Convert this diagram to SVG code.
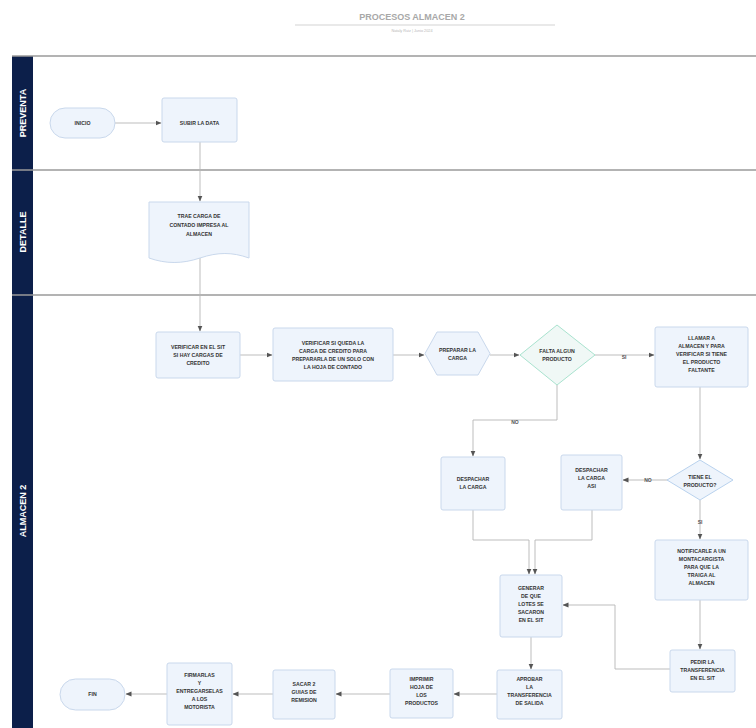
<svg xmlns="http://www.w3.org/2000/svg" width="756" height="728" viewBox="0 0 756 728">
<defs>
<marker id="ah" viewBox="0 0 6 6" refX="5.5" refY="3" markerWidth="6" markerHeight="6" orient="auto" markerUnits="userSpaceOnUse"><path d="M0,0.5 L6,3 L0,5.5 z" fill="#555"/></marker>
<style>
.box{fill:#eef4fc;stroke:#c9d8ec;stroke-width:1}
.t{font-family:"Liberation Sans",Arial,sans-serif;font-size:5.2px;font-weight:bold;fill:#333;text-anchor:middle}
.c{fill:none;stroke:#b5b5b5;stroke-width:0.9;marker-end:url(#ah)}
.cn{fill:none;stroke:#b5b5b5;stroke-width:0.9}
.lane{stroke:#9a9a9a;stroke-width:1.6}
.lt{font-family:"Liberation Sans",Arial,sans-serif;font-size:9px;font-weight:bold;fill:#fff;text-anchor:middle}
.lbl{font-family:"Liberation Sans",Arial,sans-serif;font-size:5px;font-weight:bold;fill:#555;text-anchor:middle}
</style>
</defs>
<rect width="756" height="728" fill="#fff"/>
<g id="title">
<line x1="295" y1="25" x2="555" y2="25" stroke="#c8c8c8" stroke-width="0.8"/>
<text x="412" y="20" font-family="Liberation Sans,Arial,sans-serif" font-size="9" font-weight="bold" fill="#a8a8a8" text-anchor="middle">PROCESOS ALMACEN 2</text>
<text x="412" y="32" font-family="Liberation Sans,Arial,sans-serif" font-size="3.8" fill="#b8b8b8" text-anchor="middle">Nataly Ruiz  |  Junio 2024</text>
</g>
<g id="lanes">
<rect x="12" y="56" width="21" height="672" fill="#0c1f4a"/>
<line class="lane" x1="12" y1="56" x2="756" y2="56"/>
<line class="lane" x1="12" y1="170" x2="756" y2="170"/>
<line class="lane" x1="12" y1="295" x2="756" y2="295"/>
<text class="lt" transform="translate(26,113) rotate(-90)">PREVENTA</text>
<text class="lt" transform="translate(26,232) rotate(-90)">DETALLE</text>
<text class="lt" transform="translate(26,511) rotate(-90)">ALMACEN 2</text>
</g>
<g id="connectors">
<path class="c" d="M115,123 H161"/>
<path class="c" d="M200,142 V201"/>
<path class="c" d="M200,258 V331"/>
<path class="c" d="M240,355 H272"/>
<path class="c" d="M393,355 H424"/>
<path class="c" d="M490,355 H519"/>
<path class="c" d="M595,355 H654"/>
<text class="lbl" x="624" y="359">SI</text>
<path class="c" d="M557,385 V420 H473 V456"/>
<text class="lbl" x="515" y="424">NO</text>
<path class="c" d="M700,387 V459"/>
<path class="c" d="M670,480 H623"/>
<text class="lbl" x="648" y="482">NO</text>
<path class="c" d="M700,500 V539"/>
<text class="lbl" x="700" y="524">SI</text>
<path class="c" d="M700,600 V649"/>
<path class="c" d="M670,669 H615 V605 H563"/>
<path class="c" d="M473,510 V540 H529 V574"/>
<path class="c" d="M592,510 V540 H535 V574"/>
<path class="c" d="M531,637 V669"/>
<path class="c" d="M497,694 H454"/>
<path class="c" d="M390,694 H336"/>
<path class="c" d="M273,694 H233"/>
<path class="c" d="M167,694 H126"/>
</g>
<g id="inicio"><rect class="box" x="50" y="108" width="65" height="30" rx="15"/><text class="t" x="82.5" y="125">INICIO</text></g>
<g id="subir"><rect class="box" x="162" y="98" width="75" height="44" rx="2"/><text class="t" x="199.5" y="125">SUBIR LA DATA</text></g>
<g id="trae"><path class="box" d="M149,202 H249 V258 C232,252 218,252 200,258 C182,264 166,264 149,258 Z"/><text class="t"><tspan x="199" y="218">TRAE CARGA DE</tspan><tspan x="199" y="227">CONTADO IMPRESA AL</tspan><tspan x="199" y="236">ALMACEN</tspan></text></g>
<g id="verificar1"><rect class="box" x="156" y="332" width="84" height="46" rx="2"/><text class="t"><tspan x="198" y="349">VERIFICAR EN EL SIT</tspan><tspan x="198" y="357">SI HAY CARGAS DE</tspan><tspan x="198" y="365">CREDITO</tspan></text></g>
<g id="verificar2"><rect class="box" x="273" y="328" width="120" height="53" rx="2"/><text class="t"><tspan x="333" y="345">VERIFICAR SI QUEDA LA</tspan><tspan x="333" y="353">CARGA DE CREDITO PARA</tspan><tspan x="333" y="361">PREPARARLA DE UN SOLO CON</tspan><tspan x="333" y="369">LA HOJA DE CONTADO</tspan></text></g>
<g id="preparar"><path class="box" d="M437,332 H478 L490,353.5 L478,375 H437 L425,353.5 Z"/><text class="t"><tspan x="457.5" y="352">PREPARAR LA</tspan><tspan x="457.5" y="360">CARGA</tspan></text></g>
<g id="falta"><path d="M557,325 L595,355 L557,385 L520,355 Z" fill="#f0f8f6" stroke="#a9e3cf" stroke-width="1"/><text class="t"><tspan x="557" y="353">FALTA ALGUN</tspan><tspan x="557" y="361">PRODUCTO</tspan></text></g>
<g id="llamar"><rect class="box" x="655" y="327" width="93" height="60" rx="2"/><text class="t"><tspan x="701.5" y="340">LLAMAR A</tspan><tspan x="701.5" y="348">ALMACEN Y PARA</tspan><tspan x="701.5" y="356">VERIFICAR SI TIENE</tspan><tspan x="701.5" y="364">EL PRODUCTO</tspan><tspan x="701.5" y="372">FALTANTE</tspan></text></g>
<g id="despachar"><rect class="box" x="441" y="457" width="64" height="53" rx="2"/><text class="t"><tspan x="473" y="481">DESPACHAR</tspan><tspan x="473" y="489">LA CARGA</tspan></text></g>
<g id="despacharasi"><rect class="box" x="561" y="455" width="61" height="55" rx="2"/><text class="t"><tspan x="591.5" y="472">DESPACHAR</tspan><tspan x="591.5" y="480">LA CARGA</tspan><tspan x="591.5" y="488">ASI</tspan></text></g>
<g id="tiene"><path d="M700,460 L733,480 L700,500 L667,480 Z" fill="#eef4fc" stroke="#b9d2ee" stroke-width="1"/><text class="t"><tspan x="700" y="479">TIENE EL</tspan><tspan x="700" y="487">PRODUCTO?</tspan></text></g>
<g id="notificar"><rect class="box" x="655" y="540" width="93" height="60" rx="2"/><text class="t"><tspan x="701.5" y="553">NOTIFICARLE A UN</tspan><tspan x="701.5" y="561">MONTACARGISTA</tspan><tspan x="701.5" y="569">PARA QUE LA</tspan><tspan x="701.5" y="577">TRAIGA AL</tspan><tspan x="701.5" y="585">ALMACEN</tspan></text></g>
<g id="pedir"><rect class="box" x="670" y="650" width="65" height="42" rx="2"/><text class="t"><tspan x="702.5" y="664">PEDIR LA</tspan><tspan x="702.5" y="672">TRANSFERENCIA</tspan><tspan x="702.5" y="680">EN EL SIT</tspan></text></g>
<g id="generar"><rect class="box" x="500" y="575" width="62" height="62" rx="2"/><text class="t"><tspan x="531" y="590">GENERAR</tspan><tspan x="531" y="598">DE QUE</tspan><tspan x="531" y="606">LOTES SE</tspan><tspan x="531" y="614">SACARON</tspan><tspan x="531" y="622">EN EL SIT</tspan></text></g>
<g id="aprobar"><rect class="box" x="497" y="670" width="65" height="49" rx="2"/><text class="t"><tspan x="529.5" y="681">APROBAR</tspan><tspan x="529.5" y="689">LA</tspan><tspan x="529.5" y="697">TRANSFERENCIA</tspan><tspan x="529.5" y="705">DE SALIDA</tspan></text></g>
<g id="imprimir"><rect class="box" x="390" y="669" width="63" height="49" rx="2"/><text class="t"><tspan x="421.5" y="681">IMPRIMIR</tspan><tspan x="421.5" y="689">HOJA DE</tspan><tspan x="421.5" y="697">LOS</tspan><tspan x="421.5" y="705">PRODUCTOS</tspan></text></g>
<g id="sacar"><rect class="box" x="273" y="670" width="62" height="49" rx="2"/><text class="t"><tspan x="304" y="686">SACAR 2</tspan><tspan x="304" y="694">GUIAS DE</tspan><tspan x="304" y="702">REMISION</tspan></text></g>
<g id="firmar"><rect class="box" x="167" y="663" width="65" height="62" rx="2"/><text class="t"><tspan x="199.5" y="677">FIRMARLAS</tspan><tspan x="199.5" y="685">Y</tspan><tspan x="199.5" y="693">ENTREGARSELAS</tspan><tspan x="199.5" y="701">A LOS</tspan><tspan x="199.5" y="709">MOTORISTA</tspan></text></g>
<g id="fin"><rect class="box" x="60" y="679" width="65" height="31" rx="15.5"/><text class="t" x="92.5" y="696">FIN</text></g>
</svg>
